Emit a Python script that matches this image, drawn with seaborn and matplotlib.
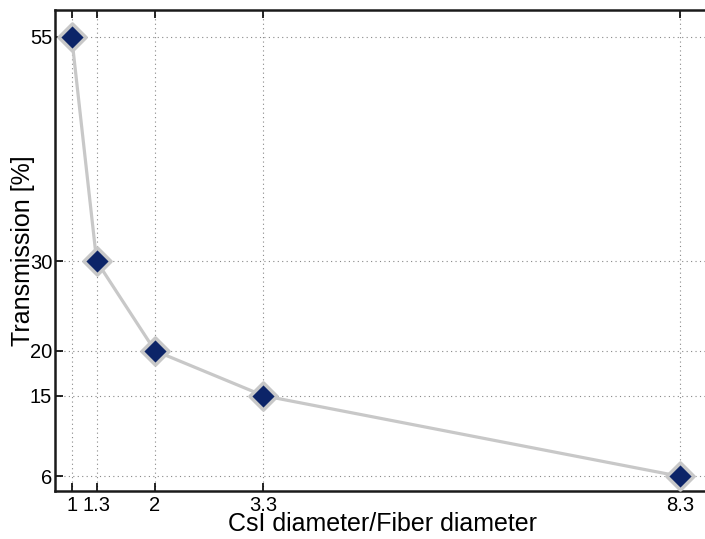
import matplotlib
matplotlib.use("Agg")
import matplotlib.pyplot as plt
import seaborn as sns
import pandas as pd

# Transmission vs. ratio of CsI diameter to fiber diameter
ratio = [1, 1.3, 2, 3.3, 8.3]
transmission = [55, 30, 20, 15, 6]
x_ticks = [1, 1.3, 2, 3.3, 8.3]
x_tick_labels = ["1", "1.3", "2", "3.3", "8.3"]
y_ticks = [6, 15, 20, 30, 55]

df = pd.DataFrame({"ratio": ratio, "transmission": transmission})

sns.set_theme(style="white")
plt.rcParams["font.family"] = ["Liberation Sans", "DejaVu Sans"]
plt.rcParams["text.color"] = "black"
plt.rcParams["axes.labelcolor"] = "black"
plt.rcParams["xtick.color"] = "black"
plt.rcParams["ytick.color"] = "black"

fig = plt.figure(figsize=(7.05, 5.39), dpi=100)
ax = fig.add_axes([0.078, 0.0896, 0.922, 0.8918])

sns.lineplot(data=df, x="ratio", y="transmission", ax=ax, color="#c8c8c8",
             linewidth=2.3, zorder=2)
sns.scatterplot(data=df, x="ratio", y="transmission", ax=ax, marker="D",
                s=190, color="#0c2468", edgecolor="#c8c8c8", linewidth=2.5,
                zorder=3, clip_on=False)

ax.set_xlim(0.8, 8.6)
ax.set_ylim(4.4, 58)
ax.set_xticks(x_ticks)
ax.set_xticklabels(x_tick_labels)
ax.set_yticks(y_ticks)

ax.grid(True, linestyle=(0, (1, 3)), color="#888888", linewidth=0.8)
ax.tick_params(direction="in", length=6, width=1.2, colors="black",
               labelsize=14.5, top=True, bottom=True, left=True, right=False)
ax.tick_params(axis="x", pad=4)
ax.tick_params(axis="y", pad=2)

for side in ["left", "bottom", "top"]:
    ax.spines[side].set_color("#1a1a1a")
    ax.spines[side].set_linewidth(1.8)
ax.spines["right"].set_visible(False)

ax.set_xlabel("CsI diameter/Fiber diameter", fontsize=18)
ax.set_ylabel("Transmission [%]", fontsize=18)
ax.xaxis.set_label_coords(0.504, -0.044)
ax.yaxis.set_label_coords(-0.03, 0.5)

fig.savefig("out.png", dpi=100)
